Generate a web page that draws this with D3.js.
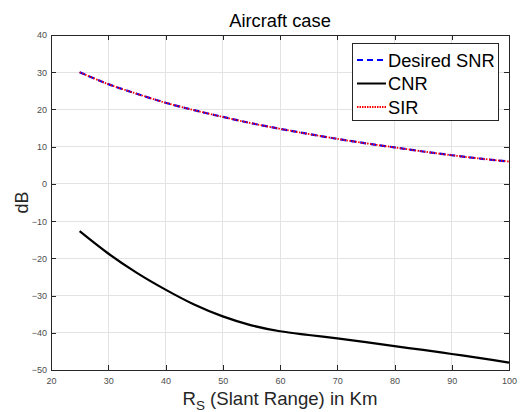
<!DOCTYPE html>
<html>
<head>
<meta charset="utf-8">
<script src="https://cdn.jsdelivr.net/npm/d3@7"></script>
<style>
  html, body { margin: 0; padding: 0; background: #fff; }
  svg { display: block; font-family: "Liberation Sans", Arial, Helvetica, sans-serif; }
</style>
</head>
<body>
<svg id="chart" width="520" height="412"></svg>
<script>
// Slant range samples (km)
const rangeKm = [25, 30, 35, 40, 45, 50, 55, 60, 65, 70, 75, 80, 85, 90, 95, 100];
// Desired SNR (dB)
const desiredSnr = [30.0, 26.8, 24.2, 21.8, 19.8, 18.0, 16.3, 14.8, 13.4, 12.1, 10.9, 9.8, 8.7, 7.7, 6.8, 6.0];
// Clutter-to-noise ratio (dB)
const cnr = [-12.7, -18.7, -23.9, -28.4, -32.4, -35.6, -38.0, -39.6, -40.6, -41.5, -42.5, -43.6, -44.6, -45.7, -46.8, -48.0];
// Signal-to-interference ratio (dB)
const sir = [30.0, 26.8, 24.2, 21.8, 19.8, 18.0, 16.3, 14.8, 13.4, 12.1, 10.9, 9.8, 8.7, 7.7, 6.8, 6.0];

const xTicks = [20, 30, 40, 50, 60, 70, 80, 90, 100];
const yTicks = [-50, -40, -30, -20, -10, 0, 10, 20, 30, 40];

const seriesNames = ["Desired SNR", "CNR", "SIR"];

const svg = d3.select("#chart");
const plotL = 51, plotR = 509, plotT = 35, plotB = 370;

const x = d3.scaleLinear().domain([20, 100]).range([plotL, plotR]);
const y = d3.scaleLinear().domain([-50, 40]).range([plotB, plotT]);

const axisColor = "#262626";
const tickColor = "#4d4d4d";

// grid
const grid = svg.append("g");
grid.selectAll("line.gx").data(xTicks.slice(1, -1)).join("line")
  .attr("x1", d => x(d)).attr("x2", d => x(d))
  .attr("y1", plotT).attr("y2", plotB)
  .attr("stroke", "#e3e3e3").attr("stroke-width", 1).attr("shape-rendering", "crispEdges");
grid.selectAll("line.gy").data(yTicks.slice(1, -1)).join("line")
  .attr("y1", d => y(d)).attr("y2", d => y(d))
  .attr("x1", plotL).attr("x2", plotR)
  .attr("stroke", "#e3e3e3").attr("stroke-width", 1).attr("shape-rendering", "crispEdges");

// axes (ticks pointing inward, mirrored on top and right)
function styleAxis(g) {
  g.select(".domain").remove();
  g.selectAll(".tick line").attr("stroke", axisColor).attr("shape-rendering", "crispEdges");
  g.selectAll(".tick text").attr("fill", tickColor).attr("font-size", 9)
    .attr("font-family", "'Liberation Sans', Arial, sans-serif");
}
svg.append("g").attr("transform", `translate(0,${plotB})`)
  .call(d3.axisBottom(x).tickValues(xTicks).tickSize(-5).tickPadding(8).tickFormat(d3.format("d")))
  .call(styleAxis);
svg.append("g").attr("transform", `translate(0,${plotT})`)
  .call(d3.axisTop(x).tickValues(xTicks).tickSize(-5).tickFormat(""))
  .call(styleAxis);
svg.append("g").attr("transform", `translate(${plotL},0)`)
  .call(d3.axisLeft(y).tickValues(yTicks).tickSize(-5).tickPadding(4).tickFormat(d3.format("d")))
  .call(styleAxis);
svg.append("g").attr("transform", `translate(${plotR},0)`)
  .call(d3.axisRight(y).tickValues(yTicks).tickSize(-5).tickFormat(""))
  .call(styleAxis);

svg.append("rect")
  .attr("x", plotL).attr("y", plotT).attr("width", plotR - plotL).attr("height", plotB - plotT)
  .attr("fill", "none").attr("stroke", axisColor).attr("stroke-width", 1)
  .attr("shape-rendering", "crispEdges");

// curves
const line = d3.line().curve(d3.curveCatmullRom.alpha(0.5)).x(d => x(d[0])).y(d => y(d[1]));
const zip = vals => rangeKm.map((r, i) => [r, vals[i]]);

svg.append("path").datum(zip(cnr)).attr("d", line)
  .attr("fill", "none").attr("stroke", "#000").attr("stroke-width", 2.2);
svg.append("path").datum(zip(desiredSnr)).attr("d", line)
  .attr("fill", "none").attr("stroke", "#0000ff").attr("stroke-width", 2.2)
  .attr("stroke-dasharray", "6,4");
svg.append("path").datum(zip(sir)).attr("d", line)
  .attr("fill", "none").attr("stroke", "#ff0000").attr("stroke-width", 1.8)
  .attr("stroke-dasharray", "1.5,1.5");

// title
svg.append("text").attr("x", (plotL + plotR) / 2).attr("y", 27)
  .attr("text-anchor", "middle").attr("font-size", 18.3).attr("fill", "#000")
  .text("Aircraft case");

// axis labels
svg.append("text").attr("transform", `translate(28,${(plotT + plotB) / 2}) rotate(-90)`)
  .attr("text-anchor", "middle").attr("font-size", 18).attr("fill", "#262626")
  .text("dB");

const xl = svg.append("text").attr("x", (plotL + plotR) / 2).attr("y", 405)
  .attr("text-anchor", "middle").attr("font-size", 18.6).attr("fill", "#262626");
xl.append("tspan").text("R");
xl.append("tspan").attr("font-size", 13.5).attr("dy", 5).text("S");
xl.append("tspan").attr("dy", -5).text(" (Slant Range) in Km");

// legend
const lg = svg.append("g");
lg.append("rect").attr("x", 352.5).attr("y", 43.5).attr("width", 146).attr("height", 77)
  .attr("fill", "#fff").attr("stroke", axisColor).attr("stroke-width", 1);
const legendStyles = [
  { color: "#0000ff", dash: "6,4", w: 2 },
  { color: "#000", dash: null, w: 2 },
  { color: "#ff0000", dash: "1.5,1", w: 1.8 }
];
seriesNames.forEach((name, i) => {
  const cy = 60 + i * 23.5;
  lg.append("line").attr("x1", 357).attr("x2", 386).attr("y1", cy).attr("y2", cy)
    .attr("stroke", legendStyles[i].color).attr("stroke-width", legendStyles[i].w)
    .attr("stroke-dasharray", legendStyles[i].dash);
  lg.append("text").attr("x", 388).attr("y", cy + 6.5).attr("font-size", 18.3).attr("fill", "#000")
    .text(name);
});
</script>
</body>
</html>
